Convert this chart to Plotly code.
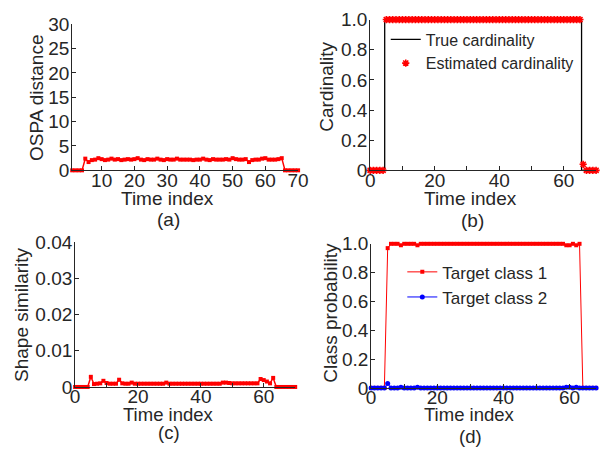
import plotly.graph_objects as go

W, H = 610, 460
FONT = "Liberation Sans, Arial, sans-serif"
TXT = "#262626"

# ---------------- data ----------------
# (a) OSPA distance, time index 1..70
t_a = list(range(1, 71))
ospa = ([0, 0, 0, 0] +
        [2.4, 1.7, 2.1, 2.2, 2.5, 2.3, 2.1, 2.2, 2.4, 2.2,
         2.3, 2.1, 2.2, 2.3, 2.2, 2.3, 2.5, 2.2, 2.1, 2.3,
         2.2, 2.2, 2.4, 2.2, 2.1, 2.3, 2.2, 2.2, 2.4, 2.2,
         2.2, 2.2, 2.2, 2.1, 2.2, 2.2, 2.4, 2.2, 2.1, 2.3,
         2.2, 2.2, 2.2, 2.3, 2.2, 2.5, 2.3, 2.2, 2.2, 2.3,
         1.7, 2.1, 2.2, 2.2, 2.4, 2.5, 2.2, 2.2, 2.2, 2.3,
         2.5] +
        [0, 0, 0, 0, 0])

# (b) cardinality, time index 0..70
t_b = list(range(0, 71))
card_true = [0] * 5 + [1] * 61 + [0] * 5
card_est = [0] * 5 + [1] * 61 + [0.04] + [0] * 4

# (c) shape similarity, time index 0..70
t_c = list(range(0, 71))
shape_sim = ([0, 0, 0, 0, 0] +
             [0.0028, 0.0008, 0.0009, 0.0010, 0.0017, 0.0011, 0.0009, 0.0009, 0.0009, 0.0020,
              0.0010, 0.0009, 0.0009, 0.0012, 0.0009, 0.0009, 0.0009, 0.0009, 0.0009, 0.0009,
              0.0009, 0.0009, 0.0009, 0.0009, 0.0012, 0.0009, 0.0009, 0.0009, 0.0009, 0.0009,
              0.0009, 0.0009, 0.0009, 0.0009, 0.0009, 0.0009, 0.0009, 0.0009, 0.0009, 0.0009,
              0.0009, 0.0009, 0.0012, 0.0012, 0.0011, 0.0010, 0.0010, 0.0010, 0.0010, 0.0010,
              0.0010, 0.0010, 0.0010, 0.0010, 0.0022, 0.0019, 0.0015, 0.0010, 0.0025] +
             [0, 0, 0, 0, 0, 0, 0])

# (d) class probability, time index 0..68
t_d = list(range(0, 69))
p_class1 = ([0, 0, 0, 0, 0] +
            [0.97, 1, 1, 1, 0.99, 1, 1, 1, 1, 0.99,
             1, 1, 1, 1, 1, 1, 1, 1, 1, 1,
             1, 1, 1, 1, 1, 1, 1, 1, 1, 1,
             1, 1, 1, 1, 1, 1, 1, 1, 1, 1,
             1, 1, 1, 1, 1, 1, 1, 1, 1, 1,
             1, 1, 1, 1, 0.99, 0.99, 1, 0.99, 1] +
            [0, 0, 0, 0, 0])
p_class2 = ([0, 0, 0, 0, 0] +
            [0.03, 0, 0, 0, 0.005, 0, 0, 0, 0, 0.005,
             0, 0, 0, 0, 0, 0, 0, 0, 0, 0,
             0, 0, 0, 0, 0, 0, 0, 0, 0, 0,
             0, 0, 0, 0, 0, 0, 0, 0, 0, 0,
             0, 0, 0, 0, 0, 0, 0, 0, 0, 0,
             0, 0, 0, 0, 0.005, 0.005, 0, 0.005, 0] +
            [0, 0, 0, 0, 0])

assert len(ospa) == len(t_a)
assert len(card_true) == len(t_b) and len(card_est) == len(t_b)
assert len(shape_sim) == len(t_c)
assert len(p_class1) == len(t_d) and len(p_class2) == len(t_d)

# ---------------- figure ----------------
fig = go.Figure()

fig.add_trace(go.Scatter(x=t_a, y=ospa, mode="lines+markers", xaxis="x", yaxis="y",
                         line=dict(color="red", width=1.5),
                         marker=dict(symbol="square", size=4, color="red"),
                         showlegend=False, cliponaxis=False))

fig.add_trace(go.Scatter(x=t_b, y=card_true, mode="lines", xaxis="x2", yaxis="y2",
                         name="True cardinality", line=dict(color="black", width=1.3, shape="hvh"),
                         legend="legend", cliponaxis=False))
fig.add_trace(go.Scatter(x=t_b, y=card_est, mode="markers", xaxis="x2", yaxis="y2",
                         name="Estimated cardinality",
                         marker=dict(symbol="asterisk-open", size=6, color="red",
                                     line=dict(color="red", width=1.6)),
                         legend="legend", cliponaxis=False))

fig.add_trace(go.Scatter(x=t_c, y=shape_sim, mode="lines+markers", xaxis="x3", yaxis="y3",
                         line=dict(color="red", width=1.5),
                         marker=dict(symbol="square", size=4, color="red"),
                         showlegend=False, cliponaxis=False))

fig.add_trace(go.Scatter(x=t_d, y=p_class1, mode="lines+markers", xaxis="x4", yaxis="y4",
                         name="Target class 1", line=dict(color="red", width=1),
                         marker=dict(symbol="square", size=4, color="red"),
                         legend="legend2", cliponaxis=False))
fig.add_trace(go.Scatter(x=t_d, y=p_class2, mode="lines+markers", xaxis="x4", yaxis="y4",
                         name="Target class 2", line=dict(color="blue", width=1),
                         marker=dict(symbol="circle", size=5, color="blue"),
                         legend="legend2", cliponaxis=False))


def px_dom_x(a, b):
    return [a / W, b / W]


def px_dom_y(top, bottom):
    return [1 - bottom / H, 1 - top / H]


axis_common = dict(showline=True, linecolor=TXT, linewidth=1, ticks="inside", ticklen=4,
                   tickcolor=TXT, showgrid=False, zeroline=False,
                   tickfont=dict(family=FONT, size=19, color=TXT))


def xaxis(dom, rng, tv, tt, anchor, standoff=-7):
    d = dict(axis_common)
    d.update(domain=dom, range=rng, tickmode="array", tickvals=tv, ticktext=tt, anchor=anchor,
             ticklabelstandoff=standoff)
    return d


def yaxis(dom, rng, tv, tt, anchor):
    d = dict(axis_common)
    d.update(domain=dom, range=rng, tickmode="array", tickvals=tv, ticktext=tt, anchor=anchor,
             ticklabelstandoff=-2)
    return d


x_ticks_10 = [0, 10, 20, 30, 40, 50, 60, 70]
x_text_20 = ["0", "", "20", "", "40", "", "60", ""]

fig.update_layout(
    width=W, height=H, margin=dict(l=0, r=0, t=0, b=0),
    paper_bgcolor="white", plot_bgcolor="white",
    font=dict(family=FONT, color=TXT),
    xaxis=xaxis(px_dom_x(69, 301), [1, 70], [10, 20, 30, 40, 50, 60, 70],
                ["10", "20", "30", "40", "50", "60", "70"], "y"),
    yaxis=yaxis(px_dom_y(15, 168), [0, 30], [0, 5, 10, 15, 20, 25, 30],
                ["0", "5", "10", "15", "20", "25", "30"], "x"),
    xaxis2=xaxis(px_dom_x(375, 607), [0, 70], x_ticks_10, x_text_20, "y2"),
    yaxis2=yaxis(px_dom_y(10, 168), [0, 1], [0, 0.2, 0.4, 0.6, 0.8, 1.0],
                 ["0", "0.2", "0.4", "0.6", "0.8", "1.0"], "x2"),
    xaxis3=xaxis(px_dom_x(72, 298), [0, 70], x_ticks_10, x_text_20, "y3", standoff=-8),
    yaxis3=yaxis(px_dom_y(243, 395), [0, 0.04], [0, 0.01, 0.02, 0.03, 0.04],
                 ["0", "0.01", "0.02", "0.03", "0.04"], "x3"),
    xaxis4=xaxis(px_dom_x(376, 607), [0, 68], [0, 10, 20, 30, 40, 50, 60],
                 ["0", "", "20", "", "40", "", "60"], "y4", standoff=-8),
    yaxis4=yaxis(px_dom_y(245, 396), [0, 1], [0, 0.2, 0.4, 0.6, 0.8, 1.0],
                 ["0", "0.2", "0.4", "0.6", "0.8", "1.0"], "x4"),
    legend=dict(x=391 / W, y=1 - 13 / H, xanchor="left", yanchor="top",
                bgcolor="rgba(0,0,0,0)", borderwidth=0, tracegroupgap=0,
                font=dict(family=FONT, size=16, color=TXT)),
    legend2=dict(x=408 / W, y=1 - 256 / H, xanchor="left", yanchor="top",
                 bgcolor="rgba(0,0,0,0)", borderwidth=0, tracegroupgap=0,
                 font=dict(family=FONT, size=17, color=TXT)),
)


def ann(text, x, y, size=19, angle=0):
    fig.add_annotation(text=text, x=x / W, y=1 - y / H, xref="paper", yref="paper",
                       xanchor="center", yanchor="middle", showarrow=False, textangle=angle,
                       font=dict(family=FONT, size=size, color=TXT))


ann("Time index", 167, 197)
ann("(a)", 168, 220)
ann("Time index", 478, 197)
ann("(b)", 480, 221)
ann("Time index", 168, 424, size=18.5)
ann("(c)", 168, 443, size=18.5)
ann("Time index", 477, 424, size=18.5)
ann("(d)", 478, 447, size=18.5)
ann("OSPA distance", 33, 92, angle=-90)
ann("Cardinality", 330, 80, angle=-90)
ann("Shape similarity", 17, 319, angle=-90)
ann("Class probability", 334, 317, angle=-90)

fig.write_html("out.html")
